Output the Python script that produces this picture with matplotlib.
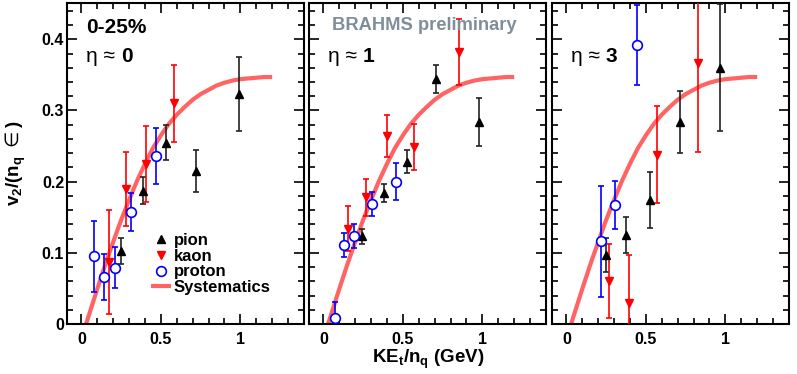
import numpy as np
import matplotlib.pyplot as plt
from matplotlib.ticker import MultipleLocator

plt.rcParams['font.family'] = ['Liberation Sans', 'DejaVu Sans']
plt.rcParams['mathtext.fontset'] = 'custom'
plt.rcParams['mathtext.rm'] = 'Liberation Sans'
plt.rcParams['mathtext.bf'] = 'Liberation Sans:bold'
plt.rcParams['mathtext.sf'] = 'DejaVu Sans'
plt.rcParams['mathtext.default'] = 'bf'

# systematics curve (same in all three panels)
sys_x = [0.03, 0.10, 0.15, 0.20, 0.25, 0.30, 0.35, 0.40, 0.45, 0.50, 0.55, 0.60,
         0.65, 0.70, 0.75, 0.80, 0.85, 0.90, 0.95, 1.00, 1.05, 1.10, 1.15, 1.20]
sys_y = [0.000, 0.049, 0.083, 0.115, 0.146, 0.174, 0.201, 0.225, 0.247, 0.265, 0.281, 0.294,
         0.305, 0.315, 0.323, 0.329, 0.335, 0.339, 0.342, 0.344, 0.345, 0.346, 0.347, 0.347]

eta_labels = ["0", "1", "3"]

# eta ~ 0
pion0_x = [0.247, 0.39, 0.534, 0.72, 0.994]
pion0_y = [0.103, 0.187, 0.255, 0.215, 0.323]
pion0_e = [0.018, 0.019, 0.024, 0.029, 0.052]
kaon0_x = [0.173, 0.278, 0.405, 0.582]
kaon0_y = [0.087, 0.190, 0.225, 0.310]
kaon0_e = [0.073, 0.052, 0.053, 0.054]
prot0_x = [0.082, 0.141, 0.209, 0.31, 0.47]
prot0_y = [0.095, 0.066, 0.079, 0.157, 0.236]
prot0_e = [0.050, 0.032, 0.029, 0.027, 0.039]

# eta ~ 1
pion1_x = [0.243, 0.384, 0.525, 0.707, 0.98]
pion1_y = [0.123, 0.184, 0.228, 0.344, 0.284]
pion1_e = [0.010, 0.012, 0.016, 0.020, 0.034]
kaon1_x = [0.154, 0.27, 0.399, 0.572, 0.853]
kaon1_y = [0.134, 0.178, 0.264, 0.249, 0.382]
kaon1_e = [0.032, 0.026, 0.030, 0.032, 0.046]
prot1_x = [0.072, 0.131, 0.194, 0.304, 0.458]
prot1_y = [0.008, 0.111, 0.124, 0.169, 0.200]
prot1_e = [0.023, 0.017, 0.017, 0.017, 0.026]

# eta ~ 3
pion3_x = [0.252, 0.378, 0.527, 0.712, 0.966]
pion3_y = [0.097, 0.125, 0.174, 0.284, 0.360]
pion3_e = [0.024, 0.025, 0.039, 0.044, 0.089]
kaon3_x = [0.267, 0.397, 0.571, 0.829]
kaon3_y = [0.060, 0.030, 0.238, 0.367]
kaon3_e = [0.052, 0.067, 0.068, 0.126]
prot3_x = [0.217, 0.307, 0.447]
prot3_y = [0.116, 0.167, 0.392]
prot3_e = [0.078, 0.034, 0.056]

panels = [
    (pion0_x, pion0_y, pion0_e, kaon0_x, kaon0_y, kaon0_e, prot0_x, prot0_y, prot0_e),
    (pion1_x, pion1_y, pion1_e, kaon1_x, kaon1_y, kaon1_e, prot1_x, prot1_y, prot1_e),
    (pion3_x, pion3_y, pion3_e, kaon3_x, kaon3_y, kaon3_e, prot3_x, prot3_y, prot3_e),
]

W, H = 797, 374
fig = plt.figure(figsize=(W / 100, H / 100), dpi=100)
lefts = [67, 309, 552]
curve_col = '#ff6464'

for i, (left, d) in enumerate(zip(lefts, panels)):
    ax = fig.add_axes([left / W, 50 / H, 237 / W, 321 / H])
    px, py, pe, kx, ky, ke, rx, ry, re = d

    line, = ax.plot(sys_x, sys_y, color=curve_col, lw=3, zorder=1, solid_capstyle='butt')
    ax.errorbar(px, py, yerr=pe, fmt='^', color='black', ecolor='#222222', ms=6,
                elinewidth=1.2, capsize=2, capthick=1.2, zorder=3)
    ax.errorbar(kx, ky, yerr=ke, fmt='v', color='red', ms=6,
                elinewidth=1.2, capsize=2, capthick=1.2, zorder=3)
    ax.errorbar(rx, ry, yerr=re, fmt='o', color='blue', mfc='white', mec='blue', mew=1.2,
                ms=7, elinewidth=1.2, capsize=2, capthick=1.2, zorder=4)

    ax.set_xlim(-0.09, 1.4)
    ax.set_ylim(0, 0.451)
    ax.xaxis.set_major_locator(MultipleLocator(0.5))
    ax.xaxis.set_minor_locator(MultipleLocator(0.1))
    ax.yaxis.set_major_locator(MultipleLocator(0.1))
    ax.yaxis.set_minor_locator(MultipleLocator(0.02))
    ax.tick_params(which='both', direction='in', top=True, right=True, width=1.2)
    ax.tick_params(which='major', length=7)
    ax.tick_params(which='minor', length=4)
    ax.tick_params(axis='x', pad=6, labelsize=11.5)
    ax.tick_params(axis='y', pad=2, labelsize=11.5)
    ax.xaxis.set_major_formatter(plt.FuncFormatter(lambda v, p: '%g' % v))
    ax.yaxis.set_major_formatter(plt.FuncFormatter(lambda v, p: '%g' % v))
    for lab in ax.get_xticklabels() + ax.get_yticklabels():
        lab.set_fontweight('bold')
    for s in ax.spines.values():
        s.set_linewidth(1.5)
    if i > 0:
        ax.set_yticklabels([])

    t = ax.text(0.08, 0.815, "\u03b7 \u2248 ", transform=ax.transAxes, fontsize=15,
                ha='left', va='baseline')
    ax.annotate(eta_labels[i], xy=(1, 0), xycoords=t, ha='left', va='bottom',
                fontsize=15, fontweight='bold')

    if i == 0:
        ax.text(0.08, 0.905, "0-25%", transform=ax.transAxes, fontsize=15,
                fontweight='bold', ha='left', va='baseline')
        hp = ax.errorbar([], [], yerr=[], fmt='^', color='black', ms=6)
        hk = ax.errorbar([], [], yerr=[], fmt='v', color='red', ms=6)
        hr = ax.errorbar([], [], yerr=[], fmt='o', color='blue', mfc='white', mew=1.2, ms=7)
        leg = ax.legend([hp[0], hk[0], hr[0], line], ["pion", "kaon", "proton", "Systematics"],
                        loc='upper left', bbox_to_anchor=(0.32, 0.31), frameon=False,
                        handlelength=1.2, handletextpad=0.15, labelspacing=0.05,
                        borderpad=0, prop={'weight': 'bold', 'size': 12})
    if i == 1:
        ax.text(0.097, 0.93, "BRAHMS preliminary", transform=ax.transAxes, fontsize=13.2,
                fontweight='bold', color='#7f8e99', ha='left', va='center')

fig.text(16 / W, 1 - 163 / H, r"v$_2$/(n$_q$ $\mathsf{\in}$)", rotation=90, ha='center',
         va='center', fontsize=13.5, fontweight='bold')
fig.text(428 / W, 1 - 363 / H, "KE$_t$/n$_q$ (GeV)", ha='center', va='baseline',
         fontsize=13.5, fontweight='bold')

fig.savefig('out.png', dpi=100)
